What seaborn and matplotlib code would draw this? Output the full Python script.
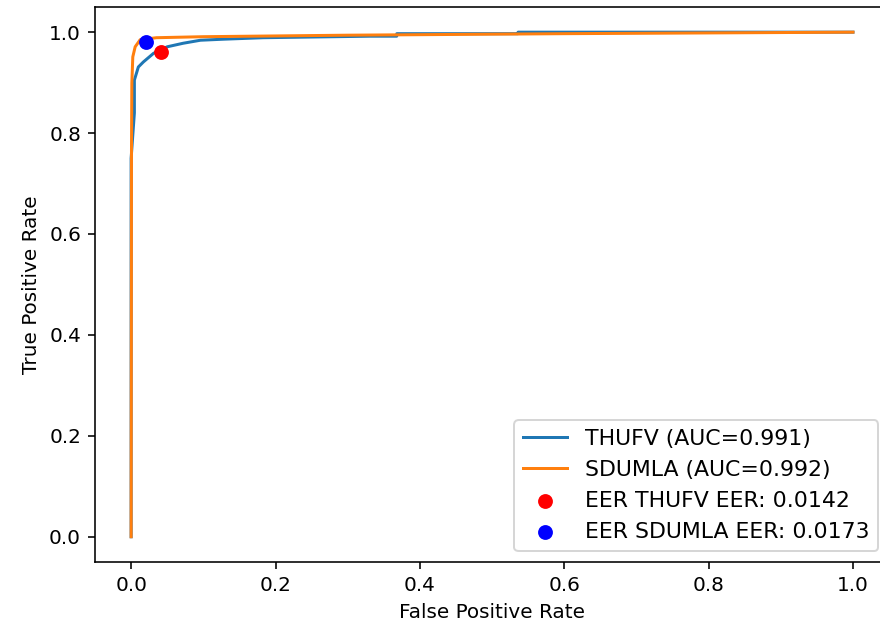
import matplotlib
matplotlib.use("Agg")
import matplotlib.pyplot as plt
import seaborn as sns
import numpy as np

# THUFV ROC curve
thufv_fpr = [0, 0, 0.0045, 0.0045, 0.010, 0.017, 0.031, 0.050, 0.072, 0.096,
             0.127, 0.155, 0.183, 0.331, 0.368, 0.368, 0.536, 0.536, 1.0]
thufv_tpr = [0, 0.75, 0.84, 0.905, 0.931, 0.941, 0.958, 0.971, 0.978, 0.984,
             0.986, 0.9875, 0.989, 0.992, 0.992, 0.997, 0.997, 1.0, 1.0]

# SDUMLA ROC curve
sdumla_fpr = [0, 0.0005, 0.001, 0.0023, 0.0056, 0.0125, 0.035, 0.1, 0.3, 0.6, 1.0]
sdumla_tpr = [0, 0.767, 0.899, 0.951, 0.971, 0.985, 0.989, 0.991, 0.994, 0.997, 1.0]

# EER points
eer_thufv = (0.042, 0.960)
eer_sdumla = (0.020, 0.981)

labels = ["THUFV (AUC=0.991)", "SDUMLA (AUC=0.992)",
          "EER THUFV EER: 0.0142", "EER SDUMLA EER: 0.0173"]

DPI = 144
fig = plt.figure(figsize=(880 / DPI, 630 / DPI), dpi=DPI)
ax = fig.add_axes([0.108, 0.108, 0.9023, 0.881])

sns.lineplot(x=thufv_fpr, y=thufv_tpr, sort=False, estimator=None, ax=ax,
             color="#1f77b4", label=labels[0], linewidth=1.5)
sns.lineplot(x=sdumla_fpr, y=sdumla_tpr, sort=False, estimator=None, ax=ax,
             color="#ff7f0e", label=labels[1], linewidth=1.5)
sns.scatterplot(x=[eer_thufv[0]], y=[eer_thufv[1]], color="red", s=55,
                linewidth=0, ax=ax, label=labels[2], zorder=5)
sns.scatterplot(x=[eer_sdumla[0]], y=[eer_sdumla[1]], color="blue", s=55,
                linewidth=0, ax=ax, label=labels[3], zorder=5)

ax.set_xlim(-0.05, 1.05)
ax.set_ylim(-0.05, 1.05)
ax.set_xlabel("False Positive Rate")
ax.set_ylabel("True Positive Rate")
ax.legend(loc="lower right", fontsize=11)

fig.savefig("out.png", dpi=DPI)
